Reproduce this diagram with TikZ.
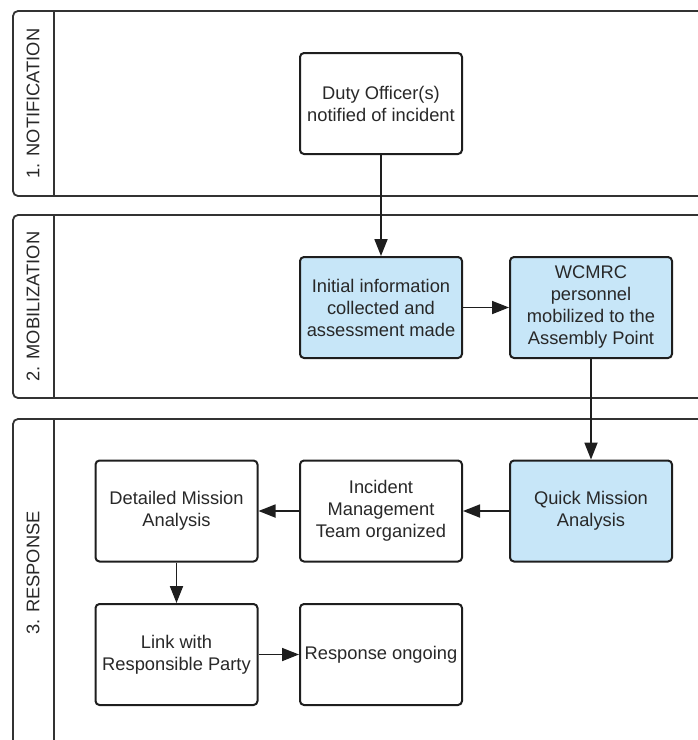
\documentclass[tikz,border=0pt]{standalone}
\usepackage{fontspec}
\setmainfont{Liberation Sans}
\usetikzlibrary{arrows.meta}

\begin{document}
\begin{tikzpicture}[x=1pt, y=-1pt, >={Triangle[length=17pt,width=13pt]},
		font=\fontsize{18.3}{22}\selectfont,
		lane/.style={draw=lanegray, line width=1.8pt, rounded corners=5pt},
		stepbox/.style={draw=boxline, line width=2pt, rounded corners=4pt, text=textgray,
			align=center, minimum width=162pt, minimum height=101pt, inner sep=2pt, fill=white},
		bluebox/.style={stepbox, fill=paleblue},
		flow/.style={->, line width=1.8pt, draw=boxline}]
	\definecolor{lanegray}{RGB}{51, 51, 51}
	\definecolor{boxline}{RGB}{30, 30, 30}
	\definecolor{textgray}{RGB}{40, 40, 40}
	\definecolor{paleblue}{RGB}{199, 230, 248}
	\useasboundingbox (0,0) rectangle (698,740);
	\clip (0,0) rectangle (698,740);
	% swim lanes (open to the right)
	\foreach \ytop/\ybot/\ylab/\lab [count=\i] in {11/196/103.5/1. NOTIFICATION, 215/398/306.5/2. MOBILIZATION, 419/780/573/3. RESPONSE} {
		\draw[lane] (720,\ytop) -- (13,\ytop) -- (13,\ybot) -- (720,\ybot);
		\draw[lane] (54,\ytop) -- (54,\ybot);
		\node[rotate=90, text=textgray] (lane\i) at (33,\ylab) {\lab};
	}
	\node[stepbox] (duty) at (381,103.5) {Duty Officer(s)\\notified of incident};
	\node[bluebox] (info) at (381,307.5) {Initial information\\collected and\\assessment made};
	\node[bluebox] (wcmrc) at (591,307.5) {WCMRC\\personnel\\mobilized to the\\Assembly Point};
	\node[bluebox] (quick) at (591,511) {Quick Mission\\Analysis};
	\node[stepbox] (imt) at (381,511) {Incident\\Management\\Team organized};
	\node[stepbox] (detail) at (176.5,511) {Detailed Mission\\Analysis};
	\node[stepbox] (link) at (176.5,654.5) {Link with\\Responsible Party};
	\node[stepbox] (ongoing) at (381,654.5) {Response ongoing};
	\draw[flow] (duty) -- (info);
	\draw[flow] (info) -- (wcmrc);
	\draw[flow] (wcmrc) -- (quick);
	\draw[flow] (quick) -- (imt);
	\draw[flow] (imt) -- (detail);
	\draw[flow] (detail) -- (link);
	\draw[flow] (link) -- (ongoing);
\end{tikzpicture}
\end{document}
